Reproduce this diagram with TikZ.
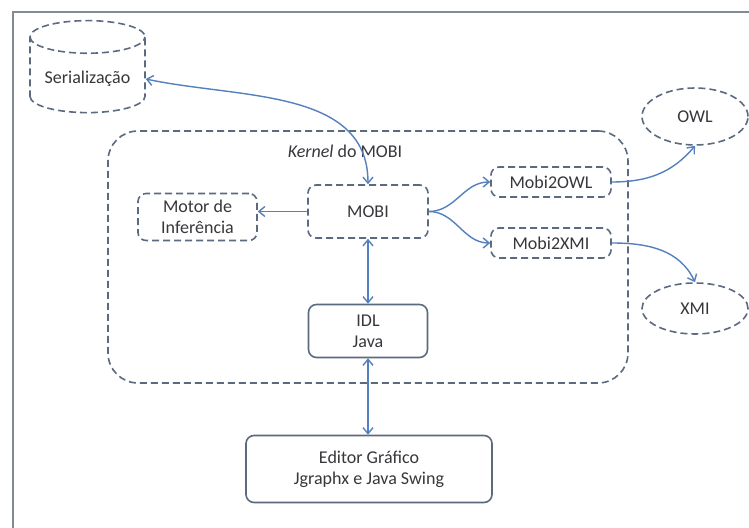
\documentclass[tikz,border=0pt]{standalone}
\usepackage{fontspec}
\setmainfont{Carlito}
\usepackage{tikz}
\usetikzlibrary{shapes.geometric,arrows.meta}
\definecolor{bc}{RGB}{92,106,128}
\definecolor{ac}{RGB}{84,128,190}
\definecolor{tc}{RGB}{55,55,60}
\definecolor{fc}{RGB}{130,138,148}
\tikzset{
  box/.style={rectangle, rounded corners=4pt, draw=bc, line width=0.8pt, text=tc, align=center, font=\fontsize{9}{10.5}\selectfont},
  dbox/.style={box, dash pattern=on 3.5pt off 2pt},
  oval/.style={ellipse, draw=bc, line width=0.8pt, dash pattern=on 3.5pt off 2pt, text=tc, font=\fontsize{9}{10.5}\selectfont},
  link/.style={draw=ac, line width=0.7pt, arrows={-Straight Barb[length=3pt,width=5pt]}},
  dlink/.style={link, arrows={Straight Barb[length=3pt,width=5pt]-Straight Barb[length=3pt,width=5pt]}}
}

\begin{document}
\begin{tikzpicture}[scale=0.5]
\useasboundingbox (0pt, 0pt) rectangle (749pt, -528pt);
\fill[white] (0pt, 0pt) rectangle (749pt, -528pt);
\draw [fc, line width=1pt] (13pt, -545pt) -- (13pt, -12pt) -- (760pt, -12pt);
% outer kernel region
\node (kernel) [rectangle, rounded corners=15pt, draw=bc, line width=0.8pt, dash pattern=on 3.5pt off 2pt, minimum width=260pt, minimum height=126pt] at (368pt, -257pt) {};
\node (klabel) [text=tc, font=\fontsize{9}{10.5}\selectfont] at (345pt, -151pt) {\textit{Kernel} do MOBI};
\node (ser) [cylinder, shape border rotate=90, aspect=0.33, draw=bc, line width=0.8pt, dash pattern=on 3.5pt off 2pt, minimum width=57.5pt, minimum height=46pt, text=tc, font=\fontsize{9}{10.5}\selectfont] at (87.5pt, -79pt) {\raisebox{-2pt}{Serialização}};
\node (motor) [dbox, minimum width=59.5pt, minimum height=21pt] at (197.5pt, -217pt) {Motor de\\Inferência};
\node (mobi) [dbox, minimum width=60pt, minimum height=26.5pt] at (368pt, -211.5pt) {MOBI};
\node (m2owl) [dbox, minimum width=60pt, minimum height=15pt] at (551pt, -182pt) {Mobi2OWL};
\node (m2xmi) [dbox, minimum width=60pt, minimum height=15pt] at (551pt, -243pt) {Mobi2XMI};
\node (owl) [oval, minimum width=53pt, minimum height=28.5pt] at (695pt, -116.5pt) {OWL};
\node (xmi) [oval, minimum width=53pt, minimum height=25.5pt] at (695pt, -308.5pt) {XMI};
\node (idl) [box, minimum width=59.5pt, minimum height=26.5pt] at (368pt, -331pt) {IDL\\Java};
\node (editor) [box, minimum width=123pt, minimum height=33.5pt] at (369pt, -469pt) {Editor Gráfico\\Jgraphx e Java Swing};
% connectors
\draw [dlink] (mobi.north) to [out=90, in=-12] (ser.east);
\draw [link] (mobi.west) -- (motor.east |- mobi.west);
\draw [link] (mobi.east) to [out=0, in=180] (m2owl.west);
\draw [link] (mobi.east) to [out=0, in=180] (m2xmi.west);
\draw [link] (m2owl.east) to [out=0, in=-130] (owl.south);
\draw [link] (m2xmi.east) to [out=0, in=115] (xmi.north);
\draw [dlink] (mobi.south) -- (idl.north);
\draw [dlink] (idl.south) -- (idl.south |- editor.north);
\end{tikzpicture}
\end{document}
